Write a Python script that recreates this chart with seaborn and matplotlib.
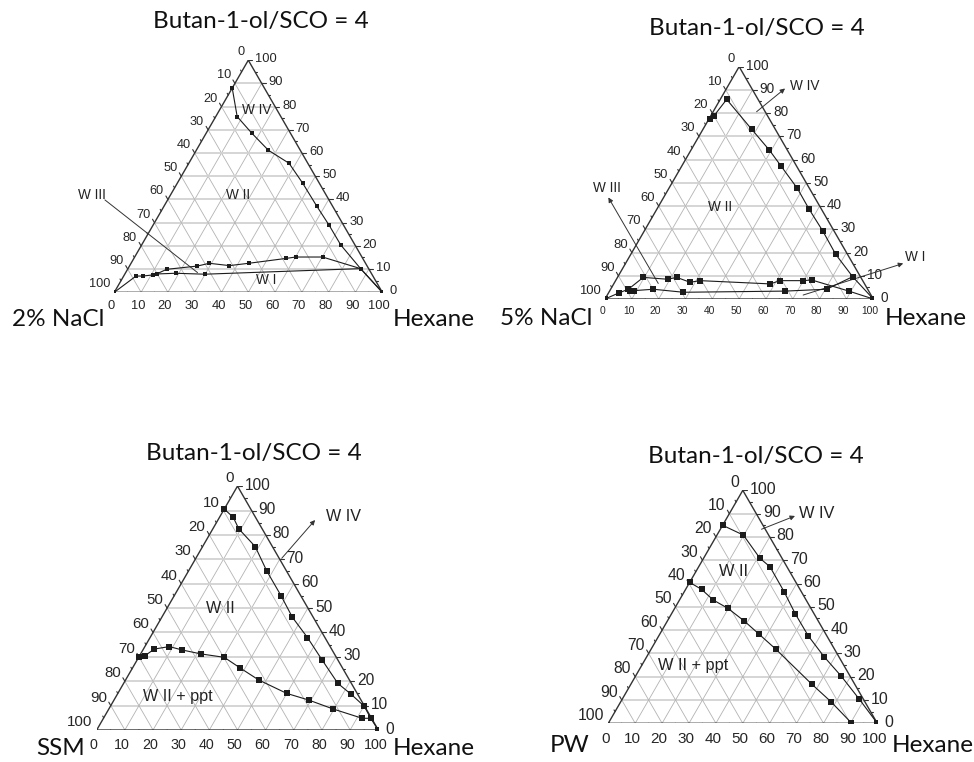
import numpy as np
import pandas as pd
import matplotlib
matplotlib.use("Agg")
import matplotlib.pyplot as plt
import matplotlib.transforms as mtransforms
import seaborn as sns

# ---------------------------------------------------------------------------
# Phase-boundary compositions, wt%: hexane (bottom axis) and
# butan-1-ol/SCO mixture (right axis); aqueous phase = 100 - both.
# ---------------------------------------------------------------------------
TITLE = "Butan-1-ol/SCO = 4"
AXIS_VALUES = list(range(0, 101, 10))
PHASES = ["2% NaCl", "5% NaCl", "SSM", "PW"]
OIL = "Hexane"

# 2% NaCl
nacl2_wiv_hex = [0, 8.0, 17.1, 26.9, 37.4, 46.8, 56.8, 65.6, 74.3, 86.8, 100]
nacl2_wiv_alc = [88.0, 75.7, 68.5, 61.2, 55.6, 47.0, 37.3, 29.0, 20.4, 10.2, 0]
nacl2_wi_up_hex = [0, 4.6, 7.1, 10.8, 11.8, 14.6, 25.3, 29.2, 37.2, 43.9, 56.8, 60.1, 70.1, 86.8, 100]
nacl2_wi_up_alc = [0, 7.0, 7.0, 7.5, 7.9, 9.9, 11.3, 12.5, 11.5, 12.5, 14.6, 15.2, 15.2, 10.2, 0]
nacl2_wi_lo_hex = [11.8, 18.8, 29.9, 86.8]
nacl2_wi_lo_alc = [7.9, 8.2, 7.8, 10.2]

# 5% NaCl
nacl5_wiv_hex = [0.5, 1.2, 2.4, 18.2, 29.2, 36.8, 47.9, 56.7, 66.5, 76.4, 87.5, 100]
nacl5_wiv_alc = [77.5, 78.9, 85.9, 73.0, 64.1, 57.4, 47.6, 38.7, 29.3, 19.2, 9.6, 0]
nacl5_wi_up_hex = [0, 4.0, 6.6, 9.6, 19.1, 22.1, 28.1, 31.5, 58.3, 61.3, 70.0, 72.9, 89.2, 100]
nacl5_wi_up_alc = [0, 2.7, 4.2, 9.3, 8.5, 9.3, 7.2, 7.9, 6.5, 7.9, 7.9, 8.2, 3.4, 0]
nacl5_wi_lo_hex = [6.6, 7.5, 9.0, 15.9, 27.8, 65.4, 80.5, 87.5]
nacl5_wi_lo_alc = [4.2, 3.6, 3.6, 4.2, 2.9, 3.4, 4.2, 9.6]

# SSM
ssm_wiv_hex = [0, 4.9, 9.2, 18.7, 27.7, 37.9, 46.4, 55.9, 65.7, 76.1, 83.1, 90.2, 94.9, 100]
ssm_wiv_alc = [90.6, 87.2, 82.5, 75.2, 65.3, 55.1, 46.2, 37.9, 28.7, 19.1, 14.6, 9.7, 4.8, 0]
ssm_ppt_hex = [0.2, 1.9, 3.9, 8.7, 14.0, 21.4, 30.4, 38.1, 47.3, 60.0, 69.1, 79.7, 91.9, 94.9]
ssm_ppt_alc = [29.8, 30.5, 33.2, 34.2, 32.8, 31.2, 29.8, 25.5, 20.5, 15.0, 12.3, 8.6, 4.8, 4.8]

# PW
pw_wiv_hex = [0, 9.8, 21.0, 26.5, 37.1, 46.1, 55.5, 65.9, 76.4, 88.2, 100]
pw_wiv_alc = [85.0, 80.8, 70.8, 67.2, 56.5, 46.9, 37.6, 28.6, 20.3, 10.3, 0]
pw_ppt_hex = [0, 5.9, 12.6, 19.7, 28.6, 37.0, 46.4, 67.1, 78.1, 90.1]
pw_ppt_alc = [60.5, 57.5, 52.9, 49.4, 43.9, 38.2, 31.8, 16.9, 9.3, 0.3]

# ---------------------------------------------------------------------------
FIG_W, FIG_H = 974, 762
SQ3 = np.sqrt(3) / 2
LINE_C = "#1c1c1c"
TEXT_C = "#222222"

sns.set_theme(style="white")
plt.rcParams["font.family"] = ["Liberation Sans", "DejaVu Sans"]

fig = plt.figure(figsize=(FIG_W / 100, FIG_H / 100), dpi=100)
fig.patch.set_facecolor("white")


def tern_xy(hexane, alcohol):
    h = np.asarray(hexane, dtype=float)
    t = np.asarray(alcohol, dtype=float)
    return h + t / 2.0, t * SQ3


panels = [
    dict(frame=(114.3, 382.3, 292.3), fs=(9.3, 9.3, 9.2), ms=3.0, rfs=9.8,
         curves=[(nacl2_wiv_hex, nacl2_wiv_alc), (nacl2_wi_up_hex, nacl2_wi_up_alc),
                 (nacl2_wi_lo_hex, nacl2_wi_lo_alc)],
         labels=[("W IV", 13.9, 78.5), ("W II", 25.3, 41.9), ("W III", -29.4, 41.9),
                 ("W I", 53.9, 5.3)],
         pointers=[((-23.4, 39.8), (26.8, 8.5), "-")],
         title=(261, 28), phase=(12, 326), oil=(393, 326)),
    dict(frame=(605.0, 873.3, 299.0), fs=(7.4, 9.8, 9.4), ms=4.2, rfs=9.8,
         curves=[(nacl5_wiv_hex, nacl5_wiv_alc), (nacl5_wi_up_hex, nacl5_wi_up_alc),
                 (nacl5_wi_lo_hex, nacl5_wi_lo_alc)],
         labels=[("W IV", 28.7, 91.7), ("W II", 23.0, 39.7), ("W III", -23.2, 47.6),
                 ("W I", 106.4, 18.2)],
         pointers=[((16.2, 80.6), (21.8, 90.6), "-|>"),
                   ((16.5, 6.7), (-20.6, 43.7), "-|>"),
                   ((73.0, 1.7), (103.5, 15.3), "-|>")],
         title=(756.5, 35), phase=(500, 325), oil=(885, 325)),
    dict(frame=(96.7, 378.3, 730.0), fs=(10.3, 11.2, 10.8), ms=3.8, rfs=11.6,
         curves=[(ssm_wiv_hex, ssm_wiv_alc), (ssm_ppt_hex, ssm_ppt_alc)],
         labels=[("W IV", 43.7, 87.7), ("W II", 18.8, 49.9), ("W II + ppt", 22.1, 13.7)],
         pointers=[((30.5, 70.4), (34.5, 86.1), "-|>")],
         title=(254, 460), phase=(36, 755), oil=(393, 755)),
    dict(frame=(608.3, 877.3, 723.3), fs=(11.0, 11.5, 11.3), ms=3.8, rfs=11.8,
         curves=[(pw_wiv_hex, pw_wiv_alc), (pw_ppt_hex, pw_ppt_alc)],
         labels=[("W IV", 32.5, 89.9), ("W II", 13.9, 65.1), ("W II + ppt", 19.1, 25.0)],
         pointers=[((15.3, 83.3), (24.9, 89.0), "-|>")],
         title=(756, 463), phase=(550, 752), oil=(892, 752)),
]


def draw_panel(spec, phase_name):
    xl, xr, yb = spec["frame"]
    w = xr - xl
    ax = fig.add_axes([xl / FIG_W, (FIG_H - yb) / FIG_H, w / FIG_W, w * SQ3 / FIG_H])
    ax.set_facecolor("none")
    px = 100.0 / w  # data units per pixel

    def off(dx, dy):
        return mtransforms.offset_copy(ax.transData, fig=fig, x=dx, y=dy, units="dots")

    # grid: constant alcohol (horizontal), constant hexane, constant water
    for k in range(10, 100, 10):
        x, y = tern_xy([0, 100 - k], [k, k])
        ax.plot(x, y, color="#d2d2d2", lw=1.3, zorder=1)
        x, y = tern_xy([k, k], [0, 100 - k])
        ax.plot(x, y, color="#b3b3b3", lw=0.6, zorder=1)
        x, y = tern_xy([100 - k, 0], [0, 100 - k])
        ax.plot(x, y, color="#b3b3b3", lw=0.6, zorder=1)

    # frame
    x, y = tern_xy([0, 100, 0, 0], [0, 0, 100, 0])
    ax.plot(x, y, color="#333333", lw=1.0, zorder=3, solid_joinstyle="miter")

    # ticks
    for v in range(0, 101, 5):
        ln = (4.0 if v % 10 == 0 else 2.0) * px
        x0, y0 = tern_xy(v, 0)
        ax.plot([x0, x0 - 0.5 * ln], [y0, y0 - SQ3 * ln], color="#333333", lw=0.8, zorder=3)
        x0, y0 = tern_xy(100 - v, v)
        ax.plot([x0, x0 + ln], [y0, y0], color="#333333", lw=0.8, zorder=3)
        x0, y0 = tern_xy(0, 100 - v)
        ax.plot([x0, x0 - 0.5 * ln], [y0, y0 + SQ3 * ln], color="#333333", lw=0.8, zorder=3)

    fb, fr, fl = spec["fs"]
    for v in AXIS_VALUES:
        x0, y0 = tern_xy(v, 0)
        ax.text(x0, y0, str(v), transform=off(-3, -4 - fb * 1.05), ha="center", va="center",
                fontsize=fb, color="#262626")
        x0, y0 = tern_xy(100 - v, v)
        ax.text(x0, y0, str(v), transform=off(7, 1), ha="left", va="center",
                fontsize=fr, color="#262626")
        x0, y0 = tern_xy(0, 100 - v)
        ax.text(x0, y0, str(v), transform=off(-4, 8), ha="right", va="center",
                fontsize=fl, color="#262626")

    # phase boundaries
    for hexs, alcs in spec["curves"]:
        x, y = tern_xy(hexs, alcs)
        df = pd.DataFrame({"x": x, "y": y})
        sns.lineplot(data=df, x="x", y="y", sort=False, estimator=None, ax=ax,
                     color=LINE_C, lw=0.8, marker="s", markersize=spec["ms"],
                     markeredgewidth=0, zorder=4)

    # pointers to region names
    for (h0, t0), (h1, t1), style in spec["pointers"]:
        xa, ya = tern_xy(h0, t0)
        xb, yb2 = tern_xy(h1, t1)
        ax.annotate("", xy=(xb, yb2), xytext=(xa, ya), annotation_clip=False,
                    arrowprops=dict(arrowstyle=style, color="#333333", lw=0.7,
                                    mutation_scale=7, shrinkA=0, shrinkB=0))

    for name, h, t in spec["labels"]:
        x0, y0 = tern_xy(h, t)
        ax.text(x0, y0, name, ha="center", va="center", fontsize=spec["rfs"],
                color=TEXT_C, zorder=5)

    ax.set_xlim(0, 100)
    ax.set_ylim(0, 100 * SQ3)
    ax.set_axis_off()

    tx, ty = spec["title"]
    fig.text(tx / FIG_W, 1 - ty / FIG_H, TITLE, ha="center", va="baseline",
             fontsize=17.5, family=["Lato", "DejaVu Sans"], color="#111111")
    px_, py_ = spec["phase"]
    fig.text(px_ / FIG_W, 1 - py_ / FIG_H, phase_name, ha="left", va="baseline",
             fontsize=17.5, family=["Lato", "DejaVu Sans"], color="#111111")
    ox, oy = spec["oil"]
    fig.text(ox / FIG_W, 1 - oy / FIG_H, OIL, ha="left", va="baseline",
             fontsize=17.5, family=["Lato", "DejaVu Sans"], color="#111111")


for spec, name in zip(panels, PHASES):
    draw_panel(spec, name)

fig.savefig("out.png", dpi=100, facecolor="white")
